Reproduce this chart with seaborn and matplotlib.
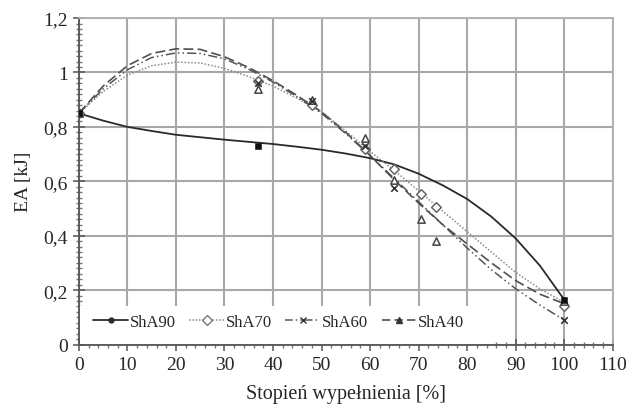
import numpy as np
import pandas as pd
import seaborn as sns
import matplotlib
matplotlib.use("Agg")
import matplotlib.pyplot as plt
from matplotlib.lines import Line2D
from matplotlib.patches import Rectangle
from matplotlib.ticker import MultipleLocator, FuncFormatter

# ---- data ----
series = ["ShA90", "ShA70", "ShA60", "ShA40"]

# trend curves (values read every 5 %)
curve_x = [0, 5, 10, 15, 20, 25, 30, 35, 40, 45, 50, 55, 60, 65, 70, 75, 80, 85, 90, 95, 100]
curve_sha90 = [0.85, 0.823, 0.80, 0.785, 0.771, 0.762, 0.753, 0.745, 0.737, 0.727, 0.716,
               0.702, 0.685, 0.662, 0.628, 0.585, 0.535, 0.47, 0.39, 0.29, 0.165]
curve_sha70 = [0.85, 0.93, 0.99, 1.025, 1.038, 1.035, 1.015, 0.985, 0.95, 0.905, 0.855,
               0.785, 0.71, 0.64, 0.565, 0.49, 0.415, 0.34, 0.265, 0.205, 0.155]
curve_sha60 = [0.85, 0.94, 1.01, 1.055, 1.072, 1.07, 1.05, 1.012, 0.965, 0.91, 0.85,
               0.775, 0.695, 0.61, 0.525, 0.44, 0.355, 0.275, 0.205, 0.145, 0.09]
curve_sha40 = [0.85, 0.95, 1.025, 1.07, 1.087, 1.085, 1.058, 1.018, 0.97, 0.915, 0.855,
               0.78, 0.695, 0.605, 0.52, 0.44, 0.37, 0.30, 0.235, 0.185, 0.15]

# measured points
pts_sha90_x = [0, 37, 100]
pts_sha90_y = [0.85, 0.73, 0.165]
pts_sha70_x = [0, 37, 48, 59, 65, 70.5, 73.5, 100]
pts_sha70_y = [0.85, 0.97, 0.88, 0.72, 0.645, 0.555, 0.505, 0.14]
pts_sha60_x = [0, 37, 48, 59, 65, 100]
pts_sha60_y = [0.85, 0.96, 0.895, 0.73, 0.575, 0.09]
pts_sha40_x = [0, 37, 48, 59, 65, 70.5, 73.5, 100]
pts_sha40_y = [0.85, 0.94, 0.90, 0.76, 0.605, 0.46, 0.38, 0.16]

x_ticks = [0, 10, 20, 30, 40, 50, 60, 70, 80, 90, 100, 110]
y_ticks = [0, 0.2, 0.4, 0.6, 0.8, 1.0, 1.2]
x_label = "Stopień wypełnienia [%]"
y_label = "EA [kJ]"

# ---- build tables ----
curves = pd.DataFrame({
    "x": curve_x * 4,
    "y": curve_sha90 + curve_sha70 + curve_sha60 + curve_sha40,
    "s": sum([[s] * len(curve_x) for s in series], []),
})
pts = pd.DataFrame({
    "x": pts_sha90_x + pts_sha70_x + pts_sha60_x + pts_sha40_x,
    "y": pts_sha90_y + pts_sha70_y + pts_sha60_y + pts_sha40_y,
    "s": (["ShA90"] * len(pts_sha90_x) + ["ShA70"] * len(pts_sha70_x)
          + ["ShA60"] * len(pts_sha60_x) + ["ShA40"] * len(pts_sha40_x)),
})

sns.set_theme(style="white")
plt.rcParams["font.family"] = ["Liberation Serif", "DejaVu Serif"]

colors = {"ShA90": "#2a2a2a", "ShA70": "#8a8a8a", "ShA60": "#555555", "ShA40": "#505050"}
dashes = {"ShA90": "", "ShA70": (1, 1.2), "ShA60": (6, 2, 1, 2, 1, 2), "ShA40": (6, 2.5)}
widths = {"ShA90": 1.3, "ShA70": 1.1, "ShA60": 1.1, "ShA40": 1.2}

fig = plt.figure(figsize=(6.31, 4.06), dpi=100)
ax = fig.add_axes([0.125, 0.149, 0.846, 0.804])

for s in series:
    sub = curves[curves.s == s]
    sns.lineplot(data=sub, x="x", y="y", ax=ax, color=colors[s], lw=widths[s],
                 legend=False, zorder=3, sort=False)
    if dashes[s]:
        ax.lines[-1].set_dashes(dashes[s])

for s in ["ShA70", "ShA60", "ShA40", "ShA90"]:
    sub = pts[pts.s == s]
    if s == "ShA90":
        kw = dict(marker="s", s=24, color="#111111", edgecolor="#111111", zorder=6)
    elif s == "ShA70":
        kw = dict(marker="D", s=24, facecolor="white", edgecolor="#666666", linewidth=1.1, zorder=4)
    elif s == "ShA60":
        kw = dict(marker="x", s=22, color="#333333", linewidth=1.2, zorder=5)
    else:
        kw = dict(marker="^", s=28, facecolor="white", edgecolor="#444444", linewidth=1.1, zorder=4)
    sns.scatterplot(data=sub, x="x", y="y", ax=ax, legend=False, **kw)

ax.set_xlim(0, 110)
ax.set_ylim(0, 1.2)
ax.set_xticks(x_ticks)
ax.set_yticks(y_ticks)
ax.xaxis.set_minor_locator(MultipleLocator(2))
ax.yaxis.set_minor_locator(MultipleLocator(0.02))
ax.yaxis.set_major_formatter(FuncFormatter(lambda v, p: ("%g" % round(v, 2)).replace(".", ",")))
ax.grid(True, which="major", color="#a8a8a8", lw=1.5, zorder=0)
ax.set_axisbelow(True)
for side in ["top", "right"]:
    ax.spines[side].set_color("#b0b0b0")
    ax.spines[side].set_linewidth(1.3)
for side in ["left", "bottom"]:
    ax.spines[side].set_color("#555555")
    ax.spines[side].set_linewidth(1.3)
ax.tick_params(which="major", direction="inout", length=8, width=1.1, color="#555555",
               labelsize=14, pad=4, left=True, bottom=True)
ax.tick_params(which="minor", direction="inout", length=5, width=1.0, color="#777777",
               left=True, bottom=True)
ax.set_xlabel(x_label, fontsize=14.5, labelpad=8)
ax.set_ylabel(y_label, fontsize=14, labelpad=8)

# white legend area covering the grid
ax.add_patch(Rectangle((0.003, 0.003), 0.77, 0.115, transform=ax.transAxes,
                       facecolor="white", edgecolor="none", zorder=1.5))

handles = [
    Line2D([], [], color="#2a2a2a", lw=1.3, marker="o", ms=3.5, markevery=[1]),
    Line2D([], [], color="#8a8a8a", lw=1.1, ls=(0, (1, 1.2)), marker="D", ms=5,
           mfc="white", mec="#777777", markevery=[1]),
    Line2D([], [], color="#555555", lw=1.1, ls=(0, (5, 2, 1, 2, 1, 2)), marker="x", ms=5,
           mec="#333333", markevery=[1]),
    Line2D([], [], color="#505050", lw=1.2, ls=(0, (5, 2.5)), marker="^", ms=5,
           mfc="#333333", mec="#333333", markevery=[1]),
]
for h in handles:
    h.set_data([0, 1], [0, 0])
leg = ax.legend(handles, series, loc="center left", bbox_to_anchor=(0.027, 0.07), ncol=4,
                frameon=False, fontsize=12, handlelength=2.1, handletextpad=0.1,
                columnspacing=0.8, borderpad=0.0, borderaxespad=0.0)
leg.set_zorder(2)

fig.savefig("out.png", dpi=100)
